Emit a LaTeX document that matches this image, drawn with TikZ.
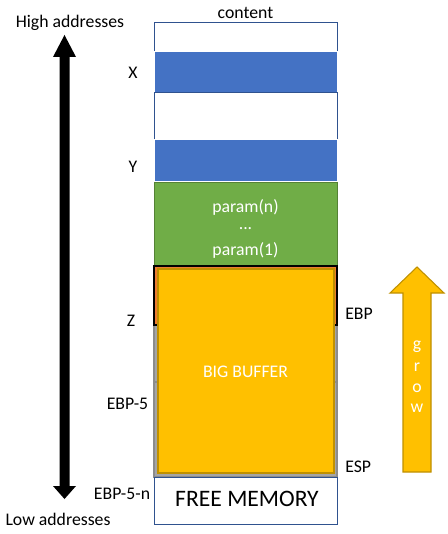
\documentclass[tikz,border=0pt]{standalone}
\usepackage{fontspec}
\setmainfont{Carlito}
\definecolor{cblue}{HTML}{4472C4}
\definecolor{cblueline}{HTML}{2F528F}
\definecolor{cgreen}{HTML}{70AD47}
\definecolor{cgreenline}{HTML}{548235}
\definecolor{corange}{HTML}{ED7D31}
\definecolor{cyellow}{HTML}{FFC000}
\definecolor{cyellowline}{HTML}{BF9000}
\definecolor{cgray}{HTML}{A5A5A5}
\definecolor{cgrayline}{HTML}{8C8C8C}
\begin{document}
\begin{tikzpicture}[x=0.75pt,y=-0.75pt,
  lbl/.style={font=\fontsize{13.3}{16}\selectfont,inner sep=0pt,anchor=center},
  wlbl/.style={lbl,text=white},
  rowline/.style={draw=cblueline,line width=0.75pt}]
\useasboundingbox (0,0) rectangle (448,534);
% column rows
\draw[rowline,fill=white] (154,23) rectangle (337,52);
\draw[draw=white,line width=0.75pt,fill=cblue] (154,52) rectangle (337,93);
\draw[rowline,fill=white] (154,93) rectangle (337,140);
\draw[draw=white,line width=0.75pt,fill=cblue] (154,140) rectangle (337,182);
\draw[draw=cgreenline,line width=0.4pt,fill=cgreen] (154,182) rectangle (337,266);
\draw[draw=cgrayline,line width=1.2pt,fill=cgray] (154,325) rectangle (337,382);
\draw[draw=cgrayline,line width=1.2pt,fill=cgray] (154,382) rectangle (337,477);
\draw[draw=black,line width=1.4pt,fill=corange] (154,266) rectangle (337,325);
\draw[rowline,fill=white] (154,477) rectangle (337,524);
% big buffer overlay
\draw[draw=cyellowline,line width=0.9pt,fill=cyellow] (158,269) rectangle (334,473);
% texts in column
\node[lbl] (content) at (245.5,13) {content};
\node[wlbl] (pn) at (245.5,207) {param(n)};
\node[wlbl] (pdots) at (245.5,229) {...};
\node[wlbl] (p1) at (245.5,250) {param(1)};
\node[wlbl] (buf) at (245.5,372) {BIG BUFFER};
\node[lbl,font=\fontsize{17.7}{20}\selectfont] (free) at (247,499) {FREE MEMORY};
% left labels
\node[lbl] (lx) at (133,73) {X};
\node[lbl] (ly) at (133,167) {Y};
\node[lbl] (lz) at (131,321) {Z};
\node[lbl] (le5) at (127.5,404) {EBP-5};
\node[lbl] (le5n) at (122,494) {EBP-5-n};
\node[lbl] (high) at (70,23) {High addresses};
\node[lbl] (low) at (58,519) {Low addresses};
% right labels
\node[lbl,anchor=west] (lebp) at (345,314) {EBP};
\node[lbl,anchor=west] (lesp) at (345,467) {ESP};
% black double arrow
\coordinate (atop) at (64.5,35);
\coordinate (abot) at (64.5,499);
\fill[black] (atop) -- ++(11.5,22) -- ++(-6.5,0) -- ++(0,429) -- ++(6.5,0)
  -- (abot) -- ++(-11.5,-13) -- ++(6.5,0) -- ++(0,-429) -- ++(-6.5,0) -- cycle;
% grow arrow
\coordinate (gtip) at (417,267);
\draw[draw=cyellowline,line width=0.8pt,fill=cyellow] (gtip) -- ++(27,26) -- ++(-13,0)
  -- ++(0,179) -- ++(-28,0) -- ++(0,-179) -- ++(-13,0) -- cycle;
\node[wlbl] (g1) at (417,347) {g};
\node[wlbl] (g2) at (417,367) {r};
\node[wlbl] (g3) at (417,388) {o};
\node[wlbl] (g4) at (417,408) {w};
\end{tikzpicture}
\end{document}
